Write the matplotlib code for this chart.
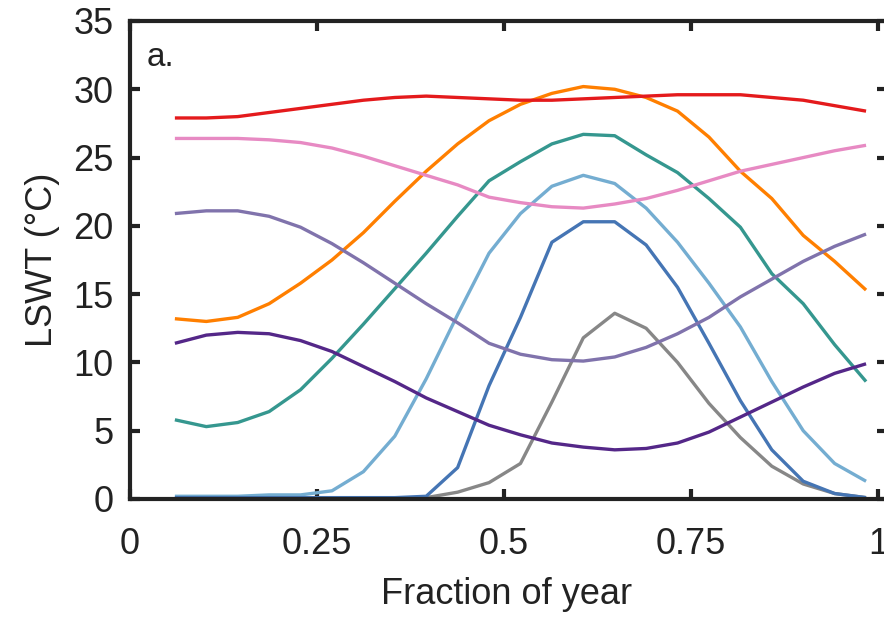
import matplotlib
matplotlib.use("Agg")
import matplotlib.pyplot as plt

plt.rcParams['font.family'] = ['Liberation Sans', 'DejaVu Sans']

frac = [0.060, 0.102, 0.144, 0.186, 0.228, 0.270, 0.312, 0.354, 0.396, 0.438, 0.480, 0.522,
        0.564, 0.606, 0.648, 0.690, 0.732, 0.774, 0.816, 0.858, 0.900, 0.942, 0.984]

gray = [0.0, 0.0, 0.0, 0.0, 0.0, 0.0, 0.0, 0.0, 0.1, 0.5, 1.2, 2.6,
        7.1, 11.8, 13.6, 12.5, 10.0, 7.0, 4.5, 2.4, 1.1, 0.4, 0.1]
lightblue = [0.2, 0.2, 0.2, 0.3, 0.3, 0.6, 2.0, 4.6, 8.8, 13.5, 18.0, 20.9,
             22.9, 23.7, 23.1, 21.3, 18.8, 15.8, 12.6, 8.6, 5.0, 2.6, 1.3]
blue = [0.1, 0.1, 0.1, 0.1, 0.1, 0.1, 0.1, 0.1, 0.2, 2.3, 8.3, 13.3,
        18.8, 20.3, 20.3, 18.6, 15.5, 11.4, 7.2, 3.6, 1.3, 0.4, 0.1]
teal = [5.8, 5.3, 5.6, 6.4, 8.0, 10.3, 12.8, 15.4, 18.0, 20.7, 23.3, 24.7,
        26.0, 26.7, 26.6, 25.2, 23.9, 22.0, 19.9, 16.5, 14.3, 11.3, 8.6]
orange = [13.2, 13.0, 13.3, 14.3, 15.8, 17.5, 19.5, 21.8, 24.0, 26.0, 27.7, 28.9,
          29.7, 30.2, 30.0, 29.4, 28.4, 26.5, 24.0, 22.0, 19.3, 17.4, 15.3]
red = [27.9, 27.9, 28.0, 28.3, 28.6, 28.9, 29.2, 29.4, 29.5, 29.4, 29.3, 29.2,
       29.2, 29.3, 29.4, 29.5, 29.6, 29.6, 29.6, 29.4, 29.2, 28.8, 28.4]
pink = [26.4, 26.4, 26.4, 26.3, 26.1, 25.7, 25.1, 24.4, 23.7, 23.0, 22.1, 21.7,
        21.4, 21.3, 21.6, 22.0, 22.6, 23.3, 24.0, 24.5, 25.0, 25.5, 25.9]
purple = [20.9, 21.1, 21.1, 20.7, 19.9, 18.7, 17.3, 15.8, 14.3, 12.9, 11.4, 10.6,
          10.2, 10.1, 10.4, 11.1, 12.1, 13.3, 14.8, 16.1, 17.4, 18.5, 19.4]
darkpurple = [11.4, 12.0, 12.2, 12.1, 11.6, 10.8, 9.7, 8.6, 7.4, 6.4, 5.4, 4.7,
              4.1, 3.8, 3.6, 3.7, 4.1, 4.9, 6.0, 7.1, 8.2, 9.2, 9.9]

series = [
    (gray, '#878787'),
    (lightblue, '#74add1'),
    (blue, '#4575b4'),
    (teal, '#35978f'),
    (orange, '#ff7f00'),
    (red, '#e41a1c'),
    (pink, '#e78ac3'),
    (purple, '#8073ac'),
    (darkpurple, '#542788'),
]

xticks = [0, 0.25, 0.5, 0.75, 1]
xticklabels = ['0', '0.25', '0.5', '0.75', '1']
yticks = [0, 5, 10, 15, 20, 25, 30, 35]

W, H = 884, 618
fig = plt.figure(figsize=(W / 100, H / 100), dpi=100)
left_px, right_px, top_px, bottom_px = 130, 887, 21, 499
ax = fig.add_axes([left_px / W, 1 - bottom_px / H,
                   (right_px - left_px) / W, (bottom_px - top_px) / H])

for vals, col in series:
    ax.plot(frac, vals, color=col, lw=2.4, solid_joinstyle='round',
            solid_capstyle='butt')

ax.set_xlim(0, 1.012)
ax.set_ylim(0, 35)
ax.set_xticks(xticks)
ax.set_xticklabels(xticklabels)
ax.set_yticks(yticks)

for sp in ax.spines.values():
    sp.set_linewidth(3)
    sp.set_color('#222222')

ax.tick_params(direction='in', length=7, width=3, color='#222222',
               top=True, right=True, labelsize=26, labelcolor='#222222')
ax.tick_params(axis='x', pad=20)
ax.tick_params(axis='y', pad=12)

ax.set_xlabel('Fraction of year', fontsize=26, color='#222222')
ax.xaxis.set_label_coords((507 - left_px) / (right_px - left_px), -0.163)
ax.set_ylabel('LSWT (°C)', fontsize=26, color='#222222')
ax.yaxis.set_label_coords(-0.092, 0.5)

ax.text(0.022, 0.906, 'a.', transform=ax.transAxes, fontsize=24,
        color='#222222', va='baseline', ha='left')

fig.savefig('out.png', dpi=100)
